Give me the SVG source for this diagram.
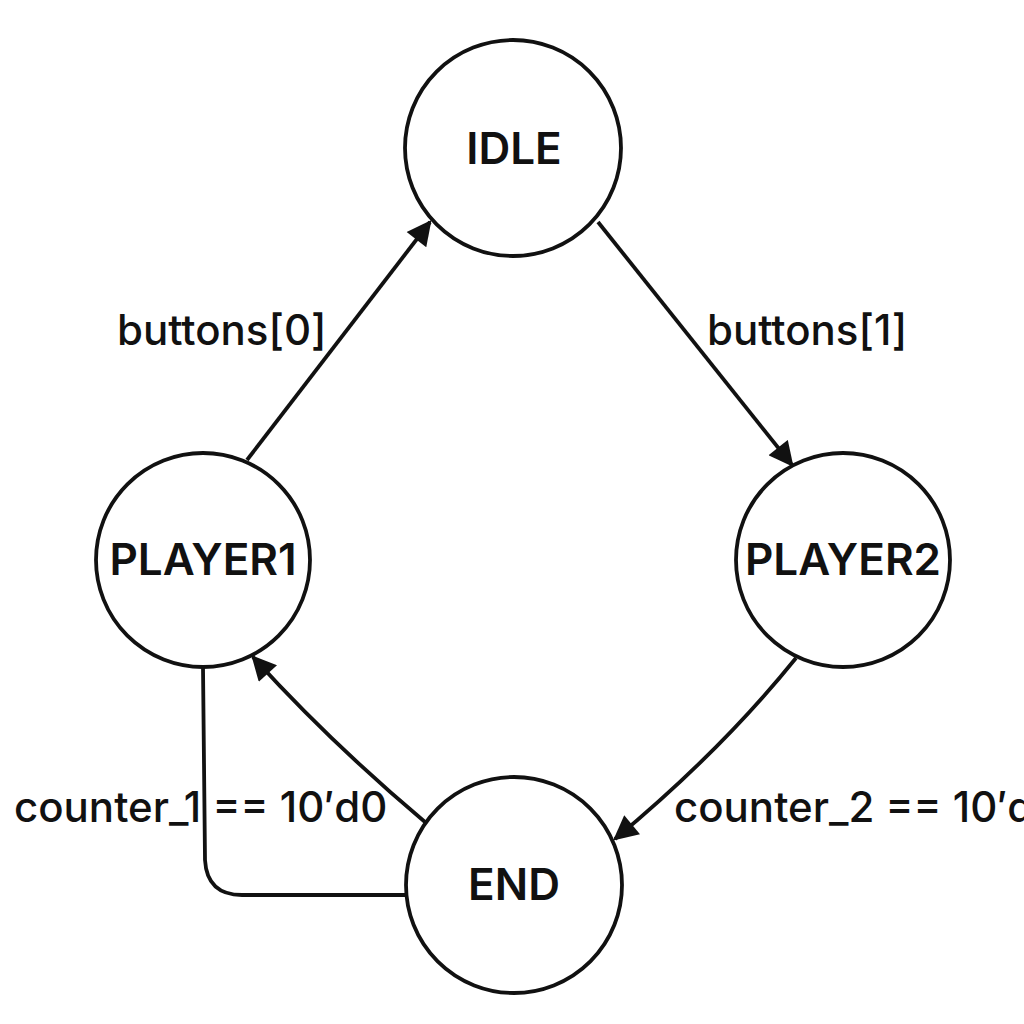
<svg xmlns="http://www.w3.org/2000/svg" width="1024" height="1024" viewBox="0 0 1024 1024">
<style>
.node circle{fill:#fff;stroke:#111;stroke-width:3.8}
.node text{font-family:Inter,"Noto Sans",sans-serif;font-weight:600;font-size:44px;fill:#111;text-anchor:middle}
.edge{fill:none;stroke:#111;stroke-width:3.8}
.lbl{font-family:Inter,"Noto Sans",sans-serif;font-weight:500;font-size:42px;fill:#111}
</style>
<defs>
<marker id="arr" viewBox="0 0 10 10" refX="9" refY="5" markerWidth="7" markerHeight="6.5" orient="auto" markerUnits="strokeWidth">
<path d="M0,0 L10,5 L0,10 z" fill="#111"/>
</marker>
</defs>
<rect width="1024" height="1024" fill="#fff"/>
<g id="connectors">
<path class="edge" d="M247,460 L430,222" marker-end="url(#arr)"/>
<path class="edge" d="M598,222 L792,465" marker-end="url(#arr)"/>
<path class="edge" d="M796,658 Q721,751 615,839" marker-end="url(#arr)"/>
<path class="edge" d="M425,822 Q330,742 253,657" marker-end="url(#arr)"/>
<path class="edge" d="M203,667 L205,860 Q207,895 242,895 L406,895"/>
</g>
<g id="labels">
<text class="lbl" x="117" y="345">buttons[0]</text>
<text class="lbl" x="707" y="345">buttons[1]</text>
<text class="lbl" x="14" y="822">counter_1 == 10′d0</text>
<text class="lbl" x="674" y="822">counter_2 == 10′d0</text>
</g>
<g id="IDLE" class="node"><circle cx="513" cy="148" r="108"/><text x="514" y="164">IDLE</text></g>
<g id="PLAYER1" class="node"><circle cx="203" cy="560" r="107"/><text x="203" y="575">PLAYER1</text></g>
<g id="PLAYER2" class="node"><circle cx="843" cy="560" r="107"/><text x="843" y="575">PLAYER2</text></g>
<g id="END" class="node"><circle cx="514" cy="885" r="108"/><text x="514" y="900">END</text></g>
</svg>
